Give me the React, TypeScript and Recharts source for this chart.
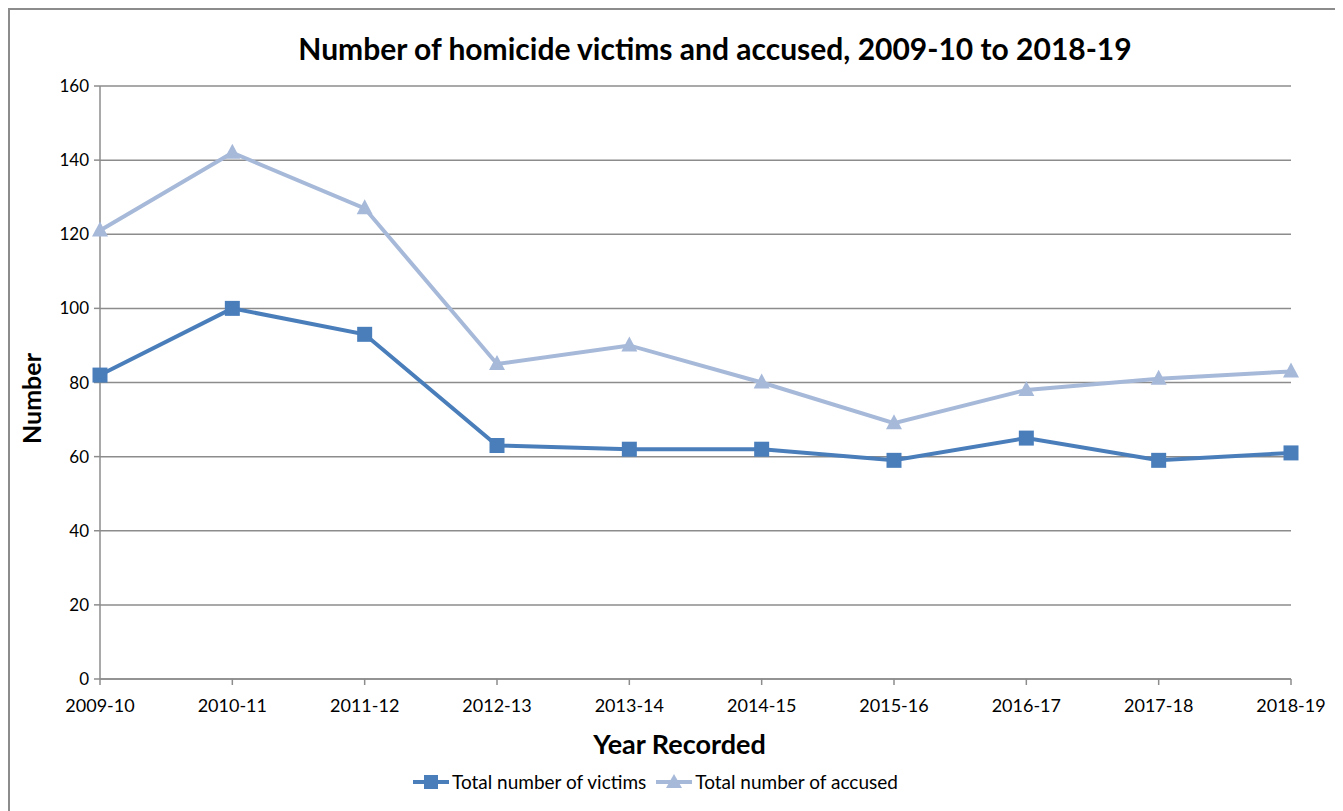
import { LineChart, Line, XAxis, YAxis, CartesianGrid, Label } from "recharts";

const years = ["2009-10", "2010-11", "2011-12", "2012-13", "2013-14", "2014-15", "2015-16", "2016-17", "2017-18", "2018-19"];
const victims = [82, 100, 93, 63, 62, 62, 59, 65, 59, 61];
const accused = [121, 142, 127, 85, 90, 80, 69, 78, 81, 83];
const yTicks = [0, 20, 40, 60, 80, 100, 120, 140, 160];

const VICTIMS_COLOR = "#4a7ebb";
const ACCUSED_COLOR = "#a7b9d9";
const FONT = "Lato, 'Open Sans', sans-serif";

const data = years.map((year, i) => ({ year, victims: victims[i], accused: accused[i] }));

function SquareDot(props: any) {
  const { cx, cy } = props;
  if (cx == null || cy == null) return null;
  return <rect x={cx - 7.5} y={cy - 7.5} width={15} height={15} fill={VICTIMS_COLOR} />;
}

function TriangleDot(props: any) {
  const { cx, cy } = props;
  if (cx == null || cy == null) return null;
  return <polygon points={`${cx},${cy - 9} ${cx + 8},${cy + 6} ${cx - 8},${cy + 6}`} fill={ACCUSED_COLOR} />;
}

function LegendItem({ color, marker, label }: { color: string; marker: "square" | "triangle"; label: string }) {
  return (
    <div style={{ display: "flex", alignItems: "center", marginRight: 10 }}>
      <svg width={36} height={16} style={{ marginRight: 3 }}>
        <line x1={0} y1={8} x2={36} y2={8} stroke={color} strokeWidth={4} />
        {marker === "square" ? (
          <rect x={11} y={1} width={14} height={14} fill={color} />
        ) : (
          <polygon points="18,0 26,14 10,14" fill={color} />
        )}
      </svg>
      <span>{label}</span>
    </div>
  );
}

export default function App() {
  return (
    <div
      style={{
        position: "relative",
        width: 1327,
        height: 820,
        border: "2px solid #8c8c8c",
        background: "#fff",
        fontFamily: FONT,
        overflow: "hidden",
      }}
    >
      <div
        style={{
          position: "absolute",
          top: 20,
          left: 0,
          width: 1410,
          textAlign: "center",
          fontSize: 30,
          fontWeight: 700,
          color: "#000",
        }}
      >
        Number of homicide victims and accused, 2009-10 to 2018-19
      </div>
      <LineChart
        width={1327}
        height={760}
        data={data}
        margin={{ top: 76, right: 46, bottom: 0, left: 0 }}
      >
        <CartesianGrid vertical={false} stroke="#8c8c8c" strokeWidth={1.5} />
        <XAxis
          dataKey="year"
          padding={{ left: 0, right: 0 }}
          tick={{ fill: "#000", fontSize: 18, fontFamily: FONT }}
          tickLine={{ stroke: "#8c8c8c", strokeWidth: 1.5 }}
          axisLine={{ stroke: "#8c8c8c", strokeWidth: 1.5 }}
          tickSize={6}
          tickMargin={14}
          height={91}
          interval={0}
        >
          <Label value="Year Recorded" position="insideBottom" offset={16} dx={-16} style={{ fontSize: 27, fontWeight: 700, fill: "#000", fontFamily: FONT }} />
        </XAxis>
        <YAxis
          domain={[0, 160]}
          ticks={yTicks}
          width={90}
          tick={{ fill: "#000", fontSize: 17, fontFamily: FONT }}
          tickLine={{ stroke: "#8c8c8c", strokeWidth: 1.5 }}
          axisLine={{ stroke: "#8c8c8c", strokeWidth: 1.5 }}
          tickSize={6}
          tickMargin={5}
          interval={0}
        >
          <Label value="Number" angle={-90} position="insideLeft" offset={22} dy={16} style={{ fontSize: 25, fontWeight: 700, fill: "#000", fontFamily: FONT, textAnchor: "middle" }} />
        </YAxis>
        <Line
          dataKey="accused"
          stroke={ACCUSED_COLOR}
          strokeWidth={4}
          dot={<TriangleDot />}
          activeDot={false}
          isAnimationActive={false}
        />
        <Line
          dataKey="victims"
          stroke={VICTIMS_COLOR}
          strokeWidth={4}
          dot={<SquareDot />}
          activeDot={false}
          isAnimationActive={false}
        />
      </LineChart>
      <div
        style={{
          position: "absolute",
          top: 760,
          left: 403,
          display: "flex",
          fontSize: 19,
          color: "#000",
        }}
      >
        <LegendItem color={VICTIMS_COLOR} marker="square" label="Total number of victims" />
        <LegendItem color={ACCUSED_COLOR} marker="triangle" label="Total number of accused" />
      </div>
    </div>
  );
}
